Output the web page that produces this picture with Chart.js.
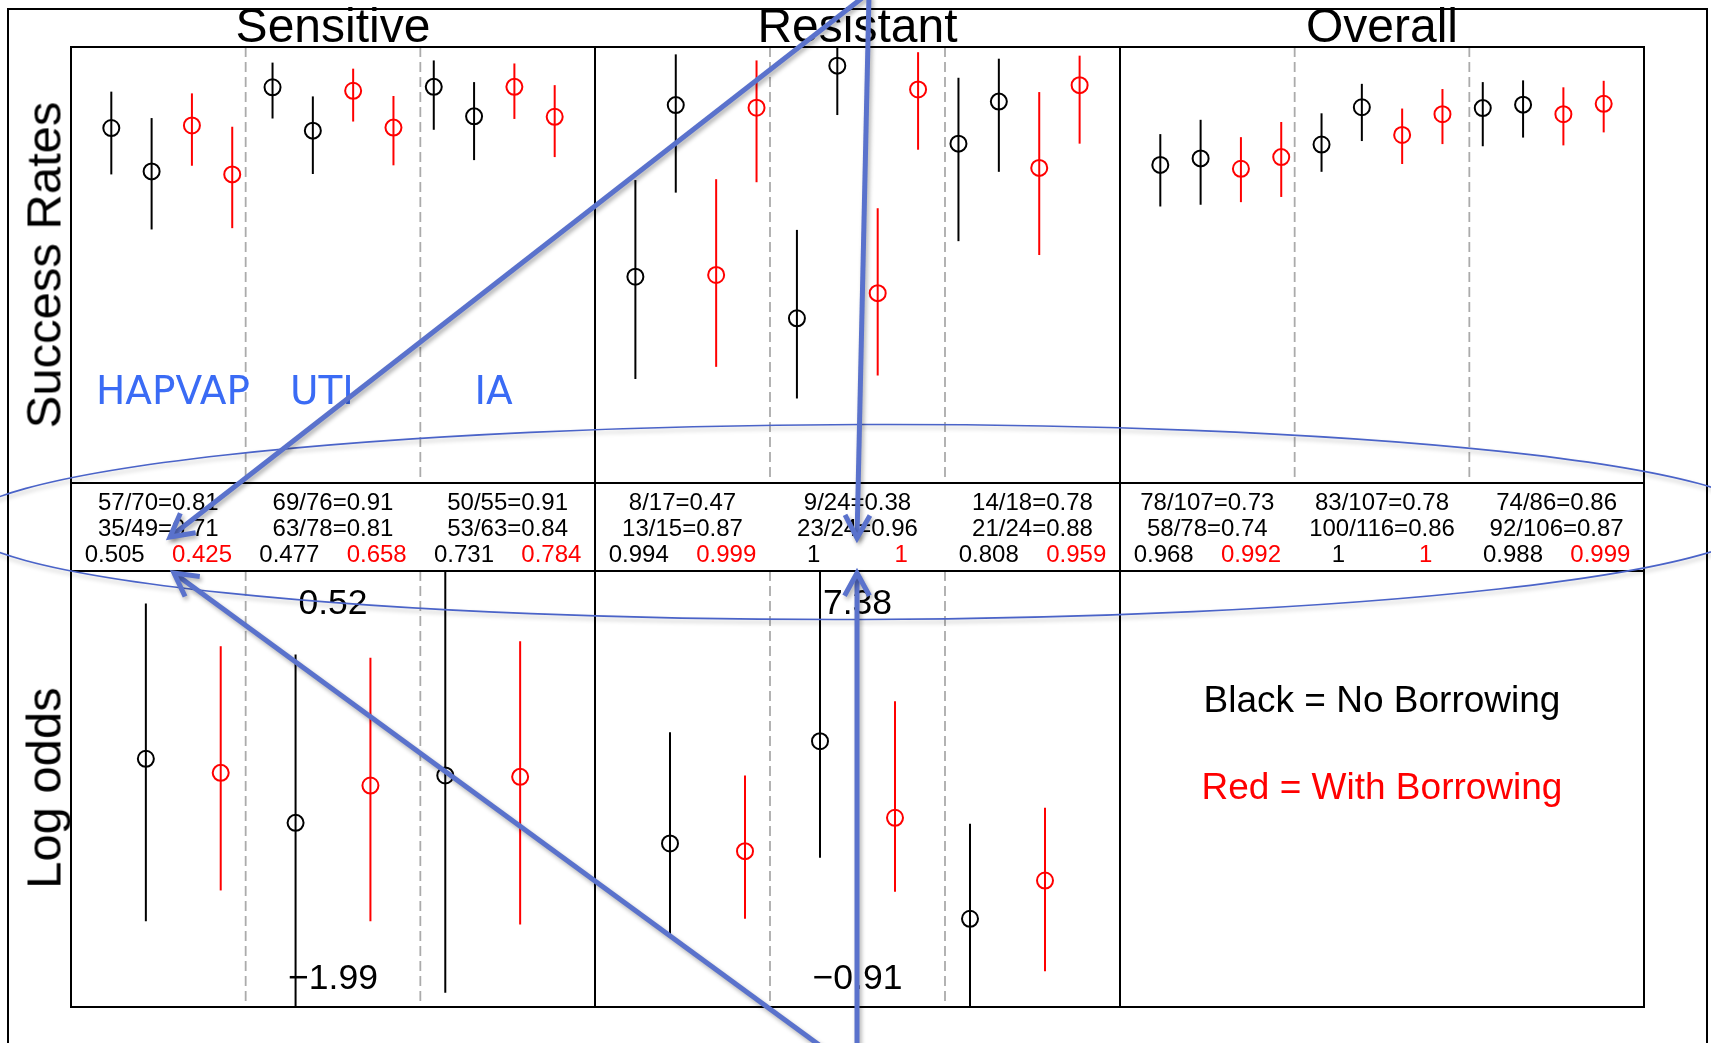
<!DOCTYPE html>
<html>
<head>
<meta charset="utf-8">
<script src="https://cdn.jsdelivr.net/npm/chart.js@4.4.0/dist/chart.umd.min.js"></script>
<style>
  html, body { margin: 0; padding: 0; background: #fff; }
  body { width: 1711px; height: 1043px; position: relative; overflow: hidden;
         font-family: 'Liberation Sans', Arial, Helvetica, sans-serif; }
  .abs { position: absolute; white-space: nowrap; line-height: 1; }
  canvas { position: absolute; }
</style>
</head>
<body>
<script>
// ---- data ----
const panelNames = ['Sensitive', 'Resistant', 'Overall']
const groupNames = ['HAPVAP', 'UTI', 'IA']

// top row, per group: no borrowing (x2) then with borrowing (x2)
const rateColors = ['#000000', '#000000', '#ff0000', '#ff0000']
const sensRate = [0.814, 0.714, 0.820, 0.707, 0.908, 0.808, 0.900, 0.815, 0.909, 0.841, 0.909, 0.840]
const sensLo   = [0.707, 0.580, 0.727, 0.583, 0.836, 0.708, 0.829, 0.728, 0.810, 0.740, 0.835, 0.747]
const sensHi   = [0.898, 0.837, 0.894, 0.817, 0.965, 0.887, 0.951, 0.888, 0.970, 0.920, 0.963, 0.913]
const resRate  = [0.471, 0.867, 0.475, 0.861, 0.375, 0.958, 0.433, 0.903, 0.778, 0.875, 0.722, 0.913]
const resLo    = [0.235, 0.665, 0.263, 0.689, 0.190, 0.844, 0.243, 0.764, 0.553, 0.713, 0.521, 0.778]
const resHi    = [0.694, 0.984, 0.696, 0.970, 0.579, 1.000, 0.629, 0.989, 0.930, 0.974, 0.897, 0.981]
const ovRate   = [0.729, 0.744, 0.720, 0.747, 0.776, 0.862, 0.798, 0.846, 0.860, 0.868, 0.846, 0.870]
const ovLo     = [0.633, 0.637, 0.643, 0.655, 0.713, 0.784, 0.731, 0.777, 0.772, 0.792, 0.774, 0.804]
const ovHi     = [0.800, 0.833, 0.793, 0.828, 0.848, 0.916, 0.859, 0.904, 0.920, 0.924, 0.908, 0.923]

// bottom row, per group: no borrowing then with borrowing
const oddsColors = ['#000000', '#ff0000']
const sensLogOdds = [-0.561, -0.642, -0.930, -0.715, -0.657, -0.665]
const sensOddsLo  = [-1.496, -1.319, -2.400, -1.496, -1.908, -1.515]
const sensOddsHi  = [0.333, 0.087, 0.039, 0.020, 0.900, 0.116]
const resLogOdds  = [2.199, 2.053, 4.144, 2.687, 0.767, 1.495]
const resOddsLo   = [0.469, 0.767, 1.927, 1.280, -1.500, -0.229]
const resOddsHi   = [4.315, 3.492, 8.500, 4.905, 2.573, 2.878]
const logOddsRange = [[-1.99, 0.52], [-0.91, 7.38]]

// table under the top row
const countsNoBorrow = ['57/70=0.81', '69/76=0.91', '50/55=0.91', '8/17=0.47', '9/24=0.38', '14/18=0.78', '78/107=0.73', '83/107=0.78', '74/86=0.86']
const countsBorrow   = ['35/49=0.71', '63/78=0.81', '53/63=0.84', '13/15=0.87', '23/24=0.96', '21/24=0.88', '58/78=0.74', '100/116=0.86', '92/106=0.87']
const probNoBorrow   = ['0.505', '0.477', '0.731', '0.994', '1', '0.808', '0.968', '1', '0.988']
const probBorrow     = ['0.425', '0.658', '0.784', '0.999', '1', '0.959', '0.992', '1', '0.999']

// ---- layout ----
const colX = [71, 595, 1120, 1644]
const topRow = [47, 483]
const botRow = [571, 1007]
const PAD = 6

Chart.defaults.font.family = "'Liberation Sans', Arial, sans-serif"

function text(str, x, base, size, opts = {}) {
    const d = document.createElement('div')
    d.className = 'abs'
    d.textContent = str
    d.style.fontSize = size + 'px'
    d.style.left = x + 'px'
    d.style.top = (base - 0.8465 * size) + 'px'
    d.style.color = opts.color || '#000'
    if (opts.family) d.style.fontFamily = opts.family
    if (opts.align !== 'left') d.style.transform = 'translateX(-50%)'
    document.body.appendChild(d)
    return d
}

function vtext(str, cx, cy, size) {
    const d = document.createElement('div')
    d.className = 'abs'
    d.textContent = str
    d.style.fontSize = size + 'px'
    d.style.left = cx + 'px'
    d.style.top = cy + 'px'
    d.style.transform = 'translate(-50%, -50%) rotate(-90deg)'
    document.body.appendChild(d)
}

// border, dashed dividers and error bars, all through the chart scales
const panelDecor = {
    id: 'panelDecor',
    beforeDatasetsDraw(chart, args, opts) {
        const { ctx, chartArea: a, scales } = chart
        ctx.save()
        ctx.strokeStyle = '#ababab'
        ctx.lineWidth = 1.8
        ctx.setLineDash([10, 5])
        ;(opts.dividers || []).forEach(v => {
            const px = scales.x.getPixelForValue(v)
            ctx.beginPath()
            ctx.moveTo(px, a.top)
            ctx.lineTo(px, a.bottom)
            ctx.stroke()
        })
        ctx.restore()

        ctx.save()
        ctx.beginPath()
        ctx.rect(a.left, a.top, a.right - a.left, a.bottom - a.top)
        ctx.clip()
        ctx.lineWidth = 2
        chart.data.datasets.forEach(ds => {
            if (!ds.lo) return
            ds.data.forEach((p, i) => {
                const x = scales.x.getPixelForValue(p.x)
                ctx.strokeStyle = ds.pointBorderColor[i]
                ctx.beginPath()
                ctx.moveTo(x, scales.y.getPixelForValue(ds.lo[i]))
                ctx.lineTo(x, scales.y.getPixelForValue(ds.hi[i]))
                ctx.stroke()
            })
        })
        ctx.restore()
    },
    afterDraw(chart) {
        const { ctx, chartArea: a } = chart
        ctx.save()
        ctx.strokeStyle = '#000'
        ctx.lineWidth = 2
        ctx.strokeRect(a.left, a.top, a.right - a.left, a.bottom - a.top)
        ctx.restore()
    }
}

function makePanel(left, right, top, bottom, xMax, yRange, values, lo, hi, colors, dividers) {
    const c = document.createElement('canvas')
    c.width = right - left + 2 * PAD
    c.height = bottom - top + 2 * PAD
    c.style.left = (left - PAD) + 'px'
    c.style.top = (top - PAD) + 'px'
    document.body.appendChild(c)
    const datasets = values ? [{
        data: values.map((v, i) => ({ x: i + 1, y: v })),
        lo: lo,
        hi: hi,
        pointBorderColor: values.map((v, i) => colors[i % colors.length]),
        pointBackgroundColor: 'rgba(0,0,0,0)',
        pointRadius: 8,
        pointHoverRadius: 8,
        pointBorderWidth: 2
    }] : []
    new Chart(c.getContext('2d'), {
        type: 'scatter',
        data: { datasets: datasets },
        options: {
            responsive: false,
            animation: false,
            events: [],
            layout: { padding: PAD, autoPadding: false },
            scales: {
                x: { type: 'linear', min: 0, max: xMax, display: false },
                y: { type: 'linear', min: yRange[0], max: yRange[1], display: false }
            },
            plugins: {
                legend: { display: false },
                tooltip: { enabled: false },
                panelDecor: { dividers: dividers }
            }
        },
        plugins: [panelDecor]
    })
}

// outer frame
const frame = document.createElement('div')
frame.style.cssText = 'position:absolute;left:7px;top:8px;width:1697px;height:1100px;border:2px solid #000;border-bottom:none;'
document.body.appendChild(frame)

// top row: success rates
const topSets = [[sensRate, sensLo, sensHi], [resRate, resLo, resHi], [ovRate, ovLo, ovHi]]
topSets.forEach((s, p) => {
    makePanel(colX[p], colX[p + 1], topRow[0], topRow[1], 13, [-0.005, 1.001],
        s[0], s[1], s[2], rateColors, [13 / 3, 26 / 3])
})

// bottom row: log odds, last panel holds the legend
const botSets = [[sensLogOdds, sensOddsLo, sensOddsHi], [resLogOdds, resOddsLo, resOddsHi]]
botSets.forEach((s, p) => {
    makePanel(colX[p], colX[p + 1], botRow[0], botRow[1], 7, logOddsRange[p],
        s[0], s[1], s[2], oddsColors, [7 / 3, 14 / 3])
})
makePanel(colX[2], colX[3], botRow[0], botRow[1], 7, [0, 1], null, null, null, oddsColors, [])

// table cells
for (let p = 0; p < 3; p++) {
    const cell = document.createElement('div')
    cell.style.cssText = 'position:absolute;box-sizing:border-box;border:2px solid #000;'
    cell.style.left = (colX[p] - 1) + 'px'
    cell.style.top = (topRow[1] - 1) + 'px'
    cell.style.width = (colX[p + 1] - colX[p] + 2) + 'px'
    cell.style.height = (botRow[0] - topRow[1] + 2) + 'px'
    document.body.appendChild(cell)
}
for (let k = 0; k < 9; k++) {
    const p = Math.floor(k / 3), g = k % 3
    const w = (colX[p + 1] - colX[p]) / 3
    const x0 = colX[p] + g * w
    text(countsNoBorrow[k], x0 + w / 2, 510, 24)
    text(countsBorrow[k], x0 + w / 2, 536.5, 24)
    text(probNoBorrow[k], x0 + w / 4, 562.5, 24)
    text(probBorrow[k], x0 + 3 * w / 4, 562.5, 24, { color: '#ff0000' })
}

// titles and axis labels
panelNames.forEach((n, p) => text(n, (colX[p] + colX[p + 1]) / 2, 43, 48))
vtext('Success Rates', 44, 265, 49)
vtext('Log odds', 44, 788, 49)

// range labels of the log-odds panels
const fmt = v => (v < 0 ? '\u2212' : '') + Math.abs(v).toFixed(2)
logOddsRange.forEach((r, p) => {
    const cx = (colX[p] + colX[p + 1]) / 2
    text(fmt(r[1]), cx, 615, 35.5)
    text(fmt(r[0]), cx, 990, 35.5)
})

// legend
text('Black = No Borrowing', (colX[2] + colX[3]) / 2, 712.5, 37)
text('Red = With Borrowing', (colX[2] + colX[3]) / 2, 799, 37, { color: '#ff0000' })

// blue group labels added on top of the figure
const groupLabelX = [96, 290, 474.5]
groupNames.forEach((g, i) => text(g, groupLabelX[i], 404, 39,
    { color: '#3a6bf5', align: 'left', family: "'DejaVu Sans', sans-serif" }))

// hand-drawn annotation layer: ellipse around the table and arrows
const ov = document.createElement('canvas')
ov.width = 1711
ov.height = 1043
ov.style.left = '0px'
ov.style.top = '0px'
ov.style.zIndex = 10
document.body.appendChild(ov)
const octx = ov.getContext('2d')

octx.save()
octx.shadowColor = 'rgba(0,0,0,0.25)'
octx.shadowBlur = 4
octx.shadowOffsetX = 1
octx.shadowOffsetY = 3
octx.strokeStyle = '#4a63c8'
octx.lineWidth = 1.6
octx.beginPath()
octx.ellipse(862, 522, 900, 97.5, -0.003, 0, Math.PI * 2)
octx.stroke()
octx.restore()

function arrow(x1, y1, x2, y2) {
    const ang = Math.atan2(y2 - y1, x2 - x1)
    const L = 26, spread = 0.5
    octx.beginPath()
    octx.moveTo(x1, y1)
    octx.lineTo(x2, y2)
    octx.stroke()
    octx.beginPath()
    octx.moveTo(x2 - L * Math.cos(ang - spread), y2 - L * Math.sin(ang - spread))
    octx.lineTo(x2, y2)
    octx.lineTo(x2 - L * Math.cos(ang + spread), y2 - L * Math.sin(ang + spread))
    octx.stroke()
}
octx.save()
octx.shadowColor = 'rgba(0,0,0,0.3)'
octx.shadowBlur = 4
octx.shadowOffsetX = 2
octx.shadowOffsetY = 3
octx.strokeStyle = '#5a72cc'
octx.lineWidth = 5
octx.lineJoin = 'miter'
arrow(866, -5, 170, 537)
arrow(869, -5, 857, 538)
arrow(857, 1050, 857, 573)
arrow(826, 1050, 174, 573)
octx.restore()
</script>
</body>
</html>
